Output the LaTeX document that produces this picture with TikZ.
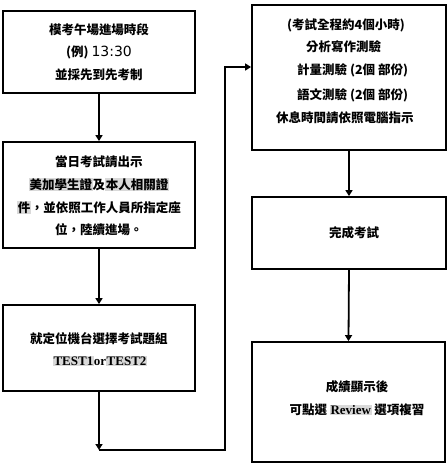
\documentclass[tikz,border=0pt]{standalone}
\usepackage{fontspec}
\setmainfont{Liberation Serif}
\newfontfamily\cjk{Noto Sans CJK TC}
\newfontfamily\dvs{DejaVu Sans}
\usetikzlibrary{arrows.meta}
\definecolor{hlgray}{HTML}{D9D9D9}
\newcommand{\hlb}[1]{{\setlength{\fboxsep}{0.6pt}\colorbox{hlgray}{#1}}}
\tikzset{
  box/.style={draw=black, line width=1.8pt, fill=white, inner sep=0pt},
  txt/.style={inner sep=0pt, font=\cjk\bfseries\fontsize{12.5}{15}\selectfont},
  arr/.style={draw=black, line width=1.8pt, -{Triangle[width=7pt,length=6pt]}},
  lin/.style={draw=black, line width=1.8pt}
}
\begin{document}
\begin{tikzpicture}[x=1pt,y=-1pt]
\useasboundingbox (0,0) rectangle (448,475);
% left column
\node[box, minimum width=192pt, minimum height=82pt] (b1) at (99,52) {};
\node[box, minimum width=192pt, minimum height=106pt] (b2) at (99,195) {};
\node[box, minimum width=192pt, minimum height=86pt] (b3) at (99,348) {};
% right column
\node[box, minimum width=194pt, minimum height=145pt] (b4) at (349,77.5) {};
\node[box, minimum width=194pt, minimum height=72pt] (b5) at (349,233) {};
\node[box, minimum width=193pt, minimum height=120pt] (b6) at (348.5,402) {};
% box 1 text
\node[txt] (t1a) at (99,30) {模考午場進場時段};
\node[txt] (t1b) at (99,52) {(例) {\dvs\mdseries\fontsize{14}{16}\selectfont 13:30}};
\node[txt] (t1c) at (99,75) {並採先到先考制};
% box 2 text
\node[txt] (t2a) at (99,162) {當日考試請出示};
\node[txt] (t2b) at (99,184.5) {\hlb{美加學生證}及\hlb{本人相關證}};
\node[txt] (t2c) at (99,207.5) {\hlb{件}，並依照工作人員所指定座};
\node[txt] (t2d) at (99,230) {位，陸續進場。};
% box 3 text
\node[txt] (t3a) at (99,339) {就定位機台選擇考試題組};
\node[txt] (t3b) at (100,361) {\rmfamily\fontsize{13}{15}\selectfont\hlb{TEST1}or\hlb{TEST2}};
% box 4 text
\node[txt, anchor=west] (t4a) at (287,25) {(考試全程約4個小時)};
\node[txt, anchor=west] (t4b) at (306,47) {分析寫作測驗};
\node[txt, anchor=west] (t4c) at (297,70.5) {計量測驗 (2個 部份)};
\node[txt, anchor=west] (t4d) at (297,95) {語文測驗 (2個 部份)};
\node[txt, anchor=west] (t4e) at (276,118) {休息時間請依照電腦指示};
% box 5 text
\node[txt] (t5a) at (354,233) {完成考試};
% box 6 text
\node[txt] (t6a) at (357,387) {成績顯示後};
\node[txt] (t6b) at (357,410) {可點選 {\rmfamily\fontsize{13}{15}\selectfont\hlb{Review}} 選項複習};
% connectors
\draw[arr] (b1.south) -- (b2.north);
\draw[arr] (b2.south) -- (b3.north);
\coordinate (j1) at (99,450);
\coordinate (j2) at (225,450);
\coordinate (j3) at (225,67);
\draw[arr] (b3.south) -- (j1);
\draw[arr] (j1) -- (j2) -- (j3) -- (j3 -| b4.west);
\draw[arr] (b4.south) -- (b5.north);
\draw[arr] (b5.south) -- (b6.north);
\end{tikzpicture}
\end{document}
